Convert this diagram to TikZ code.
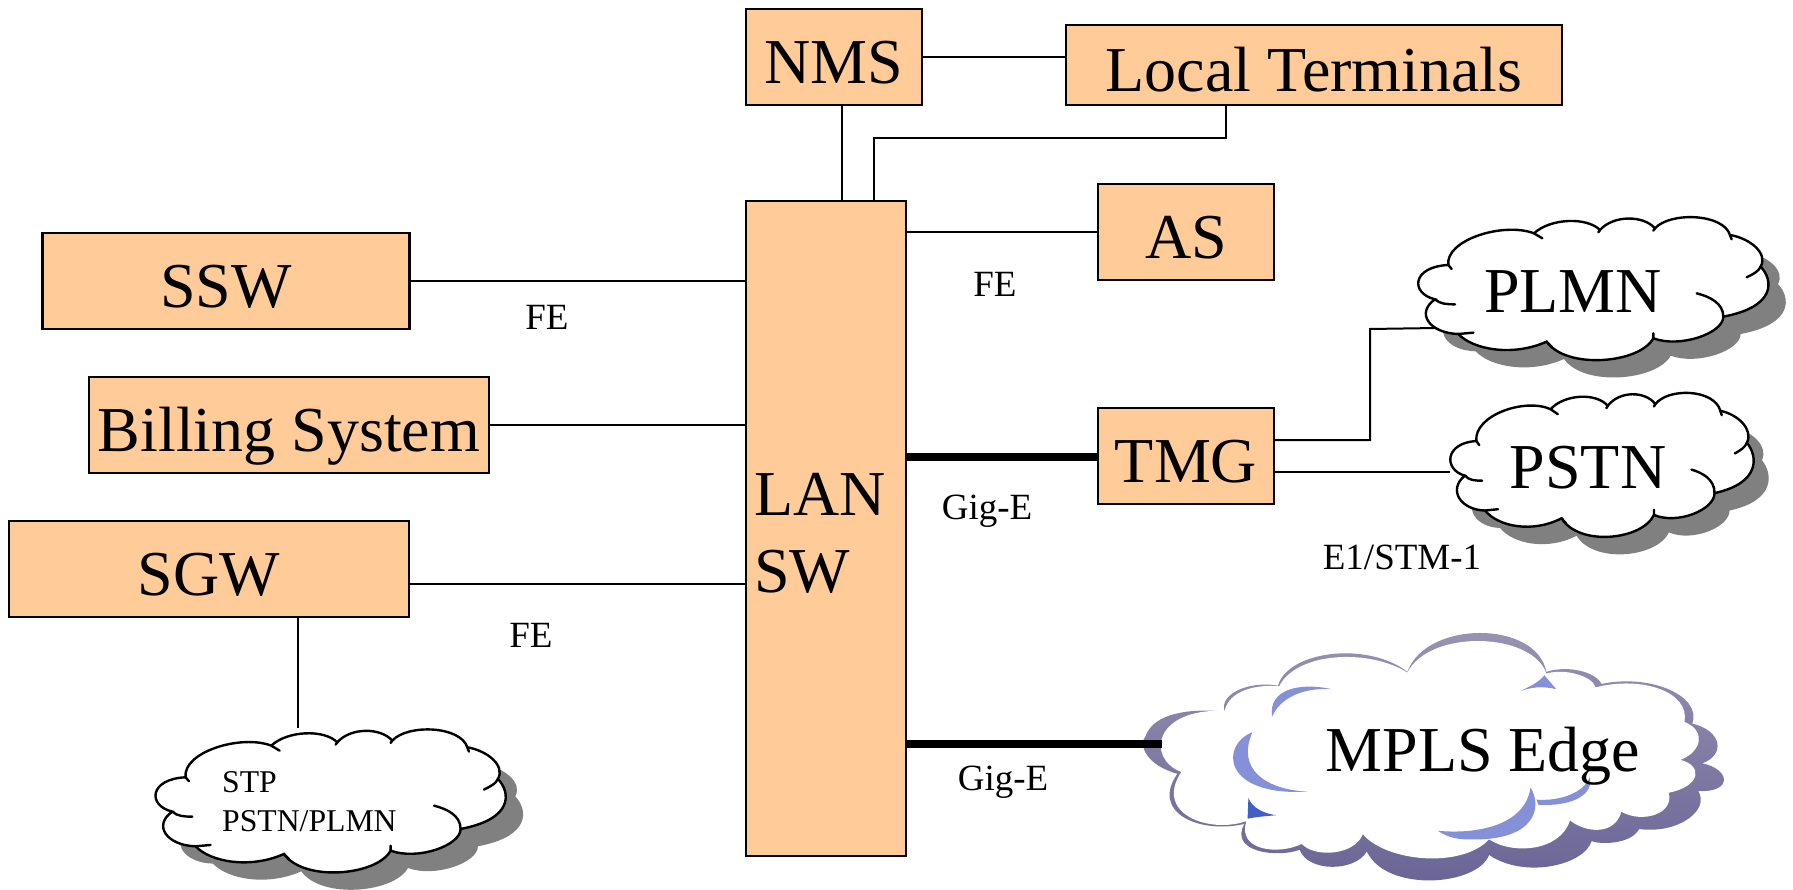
\documentclass[tikz,border=0pt]{standalone}
\usepackage{fontspec}
\setmainfont{Liberation Serif}
\usepackage{tikz}
\definecolor{boxfill}{HTML}{FFCC99}
\definecolor{cloudshade}{HTML}{808080}
\definecolor{edgeshadetop}{HTML}{9A94B4}
\definecolor{edgeshadebot}{HTML}{686394}
\definecolor{edgeblue}{HTML}{8490D8}
\definecolor{edgedark}{HTML}{4060C8}
\newcommand{\bigtext}{\fontsize{64}{77}\selectfont}
\newcommand{\smalltext}{\fontsize{37}{39}\selectfont}
\newcommand{\stptext}{\fontsize{31.7}{39}\selectfont}
\tikzstyle{block} = [rectangle, draw, fill=boxfill, line width=2.3pt, inner sep=0pt, minimum height=96pt, text height=53pt, text depth=0pt, font=\bigtext]
\tikzstyle{link} = [line width=2pt]
\tikzstyle{trunk} = [line width=8pt]
\tikzstyle{speed} = [inner sep=0pt, font=\smalltext]
\tikzstyle{cloudtext} = [inner sep=0pt, font=\bigtext]
\tikzstyle{cloudline} = [line width=2.4pt, line cap=round]
\newcommand{\cloudoutline}{(205,195) .. controls (195,120) and (370,65) .. (462,100)
	.. controls (510,55) and (620,50) .. (660,90)
	.. controls (700,45) and (790,45) .. (825,85)
	.. controls (870,35) and (1030,40) .. (1050,105)
	.. controls (1110,115) and (1165,160) .. (1142,200)
	.. controls (1180,240) and (1190,320) .. (1030,350)
	.. controls (1030,400) and (900,445) .. (820,415)
	.. controls (780,490) and (560,510) .. (500,425)
	.. controls (400,470) and (280,450) .. (235,402)
	.. controls (150,400) and (105,340) .. (165,298)
	.. controls (90,280) and (95,200) .. (205,195) -- cycle}
\newcommand{\cloudstubs}{(205,195) -- (215,207) (462,100) -- (487,115) (660,90) -- (655,97)
	(825,85) -- (820,92) (1050,105) -- (1055,118)
	(1142,200) .. controls (1135,215) and (1120,222) .. (1100,232)
	(1030,350) .. controls (1030,310) and (990,290) .. (950,280)
	(820,415) -- (820,400) (500,425) -- (515,440)
	(235,402) -- (280,398) (165,298) .. controls (180,312) and (200,313) .. (225,313)}
\newcommand{\netcloud}[3]{\begin{scope}[shift={#1}, xscale=#2, yscale=#3]
	\fill[cloudshade, shift={(52,52)}] \cloudoutline;
	\draw[cloudline, fill=white] \cloudoutline;
	\draw[cloudline] \cloudstubs;
\end{scope}}

\begin{document}
\begin{tikzpicture}[x=1pt, y=-1pt]
	\useasboundingbox (0,0) rectangle (1793,890);

	% Clouds
	\netcloud{(1380,200)}{0.3333}{0.3333}
	\netcloud{(1417.2,375.6)}{0.2887}{0.3357}
	\netcloud{(117.3,712.3)}{0.3333}{0.3333}
	\begin{scope}[shift={(1130,620)}, xscale=0.3946, yscale=0.3455]
		\shade[top color=edgeshadetop, bottom color=edgeshadebot] (40,335) .. controls (60,270) and (150,255) .. (240,265)
			.. controls (225,215) and (300,175) .. (375,190)
			.. controls (400,90) and (600,60) .. (703,150)
			.. controls (750,0) and (1030,0) .. (1055,150)
			.. controls (1110,130) and (1180,150) .. (1195,185)
			.. controls (1320,155) and (1450,220) .. (1425,300)
			.. controls (1500,320) and (1510,390) .. (1450,415)
			.. controls (1520,430) and (1530,500) .. (1440,495)
			.. controls (1470,550) and (1390,620) .. (1290,605)
			.. controls (1270,650) and (1190,650) .. (1170,640)
			.. controls (1150,710) and (1000,750) .. (910,680)
			.. controls (880,770) and (650,790) .. (600,670)
			.. controls (570,730) and (450,730) .. (430,665)
			.. controls (370,690) and (250,670) .. (290,590)
			.. controls (180,620) and (50,560) .. (120,445)
			.. controls (40,420) and (20,360) .. (40,335) -- cycle;
		\fill[white] (130,440) .. controls (40,400) and (60,255) .. (240,263)
			.. controls (250,205) and (320,185) .. (378,192)
			.. controls (420,95) and (600,80) .. (703,152)
			.. controls (760,25) and (1020,35) .. (1055,155)
			.. controls (1100,140) and (1170,160) .. (1180,195)
			.. controls (1300,160) and (1420,210) .. (1405,295)
			.. controls (1460,320) and (1450,380) .. (1395,405)
			.. controls (1450,420) and (1450,480) .. (1365,500)
			.. controls (1380,560) and (1300,590) .. (1245,555)
			.. controls (1230,620) and (1160,620) .. (1115,580)
			.. controls (1090,670) and (970,680) .. (910,635)
			.. controls (840,720) and (650,700) .. (590,620)
			.. controls (570,680) and (470,690) .. (435,648)
			.. controls (380,680) and (270,670) .. (295,582)
			.. controls (200,620) and (60,560) .. (130,440) -- cycle;
		\fill[edgeblue] (510,200) .. controls (430,180) and (350,200) .. (360,280) .. controls (380,225) and (440,195) .. (510,200) -- cycle;
		\fill[edgeblue] (310,325) .. controls (230,360) and (230,510) .. (450,497) .. controls (340,490) and (270,430) .. (310,325) -- cycle;
		\fill[edgeblue] (1050,160) -- (1080,200) .. controls (1040,190) and (1020,195) .. (990,205) .. controls (1020,190) and (1040,175) .. (1050,160) -- cycle;
		\fill[edgeblue] (780,610) .. controls (870,620) and (1000,600) .. (1015,485) .. controls (1045,540) and (1030,640) .. (860,635) .. controls (820,635) and (800,625) .. (780,610) -- cycle;
		\fill[edgeblue] (1030,520) .. controls (1090,525) and (1150,500) .. (1165,455) .. controls (1175,500) and (1130,540) .. (1035,535) -- cycle;
		\fill[edgedark] (300,515) .. controls (310,545) and (340,560) .. (370,565) .. controls (340,568) and (320,570) .. (298,575) -- cycle;
	\end{scope}

	% Boxes
	\node [block, minimum width=160pt, minimum height=655pt] (lansw) at (826,528.5) {};
	\node [anchor=west, align=left, inner sep=0pt, font=\bigtext] (lanswtext) at (754,533) {LAN\\SW};
	\node [block, minimum width=176pt] (nms) at (834,57) {NMS};
	\node [block, minimum width=496pt, minimum height=80pt] (localterm) at (1314,65) {Local Terminals};
	\node [block, minimum width=176pt] (as) at (1186,232) {AS};
	\node [block, minimum width=176pt, below of=as, node distance=224pt] (tmg) {TMG};
	\node [block, minimum width=367pt] (ssw) at (226,281) {SSW};
	\node [block, minimum width=400pt] (billing) at (289,425) {Billing System};
	\node [block, minimum width=400pt] (sgw) at (209,569) {SGW};

	% Cloud labels
	\node [cloudtext] (plmn) at (1573,292) {PLMN};
	\node [cloudtext] (pstn) at (1588,468) {PSTN};
	\node [cloudtext] (mpls) at (1483,756) {MPLS Edge};
	\node [inner sep=0pt, font=\stptext, anchor=west, align=left] (stp) at (222,802) {STP\\PSTN/PLMN};
	\coordinate (plmnport) at (1437,328);
	\coordinate (pstnport) at (1450,472);
	\coordinate (mplsport) at (1162,744);
	\coordinate (stpport) at (298,728);

	% Links
	\draw[link] (nms.east) -- (nms.east -| localterm.west);
	\draw[link] ([xshift=8pt]nms.south) -- ([xshift=16pt]lansw.north);
	\draw[link] ([xshift=-88pt]localterm.south) -- ++(0,32) -| ([xshift=48pt]lansw.north);
	\draw[link] (as.west) -- (as.west -| lansw.east);
	\draw[link] (ssw.east) -- (ssw.east -| lansw.west);
	\draw[link] (billing.east) -- (billing.east -| lansw.west);
	\draw[link] ([yshift=-15pt]sgw.east) -- ([yshift=-15pt]sgw.east -| lansw.west);
	\draw[link] (stpport |- sgw.south) -- (stpport);
	\draw[trunk] ([yshift=-1pt]lansw.east |- tmg.west) -- ([yshift=-1pt]tmg.west);
	\draw[trunk] (lansw.east |- mplsport) -- (mplsport);
	\draw[link] ([yshift=16pt]tmg.east) -| (1370,329) -- (plmnport);
	\draw[link] (pstnport -| tmg.east) -- (pstnport);

	% Speed labels
	\node [speed] (fessw) at (547,317) {FE};
	\node [speed] (feas) at (995,284) {FE};
	\node [speed] (fesgw) at (531,635) {FE};
	\node [speed] (gigtmg) at (987,511) {Gig-E};
	\node [speed] (gigmpls) at (1003,782) {Gig-E};
	\node [speed] (e1) at (1402,557) {E1/STM-1};
\end{tikzpicture}
\end{document}
